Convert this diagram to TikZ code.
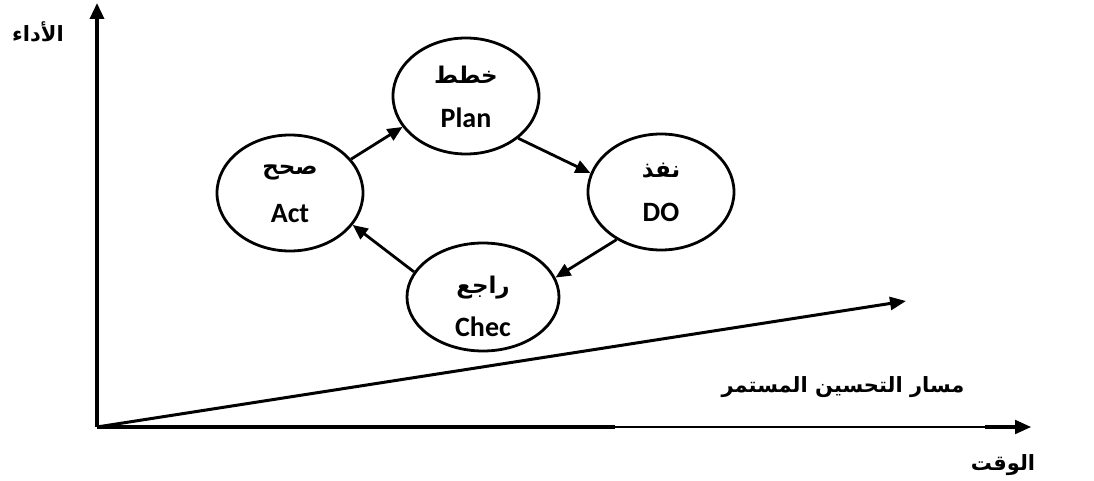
\documentclass[tikz,border=0pt]{standalone}
\usepackage{fontspec}
\usetikzlibrary{arrows.meta,shapes.geometric}
\TeXXeTstate=1
\newfontfamily\arabicfont[Script=Arabic,BoldFont={DejaVu Sans Bold}]{DejaVu Sans}
\newfontfamily\latinfont[BoldFont={Carlito Bold}]{Carlito}
\tikzset{
  stage/.style={ellipse,draw,line width=2.8pt,minimum width=146pt,minimum height=116pt,inner sep=0pt},
  arlabel/.style={font=\arabicfont\bfseries\fontsize{23}{26}\selectfont,inner sep=0pt},
  enlabel/.style={font=\latinfont\bfseries\fontsize{28}{32}\selectfont,inner sep=0pt},
  axislabel/.style={font=\arabicfont\bfseries\fontsize{21}{24}\selectfont,inner sep=0pt},
  flow/.style={line width=2.8pt,-{Triangle[length=15pt,width=13pt]}},
  axis/.style={line width=3.4pt,-{Triangle[length=16pt,width=14pt]}}
}
\begin{document}
\begin{tikzpicture}[x=1pt,y=-1pt]
\useasboundingbox (0,0) rectangle (1094,481);

% axes
\coordinate (o) at (97,427);
\coordinate (ytip) at (97,3);
\coordinate (xtip) at (1031,427);
\coordinate (trend) at (906,301);
\draw[axis] (o) -- (ytip);
\draw[line width=2.2pt,-{Triangle[length=16pt,width=14pt]}] (o) -- (xtip);
\draw[line width=3.4pt] (o) -- (615,427);
\draw[line width=3.4pt] (985,427) -- (1016,427);
\draw[line width=3pt,-{Triangle[length=16pt,width=13pt]}] (o) -- (trend);

% axis labels
\node[axislabel] (perf) at (38,32) {\beginR الأداء\endR};
\node[axislabel] (time) at (1003,465) {\beginR الوقت\endR};
\node[axislabel] (path) at (843,387) {\beginR مسار التحسين المستمر\endR};

% PDCA cycle
\node[stage] (plan) at (466,96) {};
\node[stage] (do) at (661,192) {};
\node[stage,minimum width=152pt,minimum height=108pt] (check) at (483,297) {};
\node[stage] (act) at (290,193) {};

\node[arlabel] (planar) at (466,75) {\beginR خطط\endR};
\node[enlabel] (planen) at (466,118) {Plan};
\node[arlabel] (doar) at (661,171) {\beginR نفذ\endR};
\node[enlabel] (doen) at (661,212) {DO};
\node[arlabel] (checkar) at (483,288) {\beginR راجع\endR};
\node[enlabel] (checken) at (483,327) {Chec};
\node[arlabel] (actar) at (290,172) {\beginR صحح\endR};
\node[enlabel] (acten) at (290,214) {Act};

\draw[flow] (act.29) -- (plan.206);
\draw[flow] (plan.-39) -- (do.165);
\draw[flow] (do.-133) -- (check.15);
\draw[flow] (check.160) -- (act.-27);
\end{tikzpicture}
\end{document}
